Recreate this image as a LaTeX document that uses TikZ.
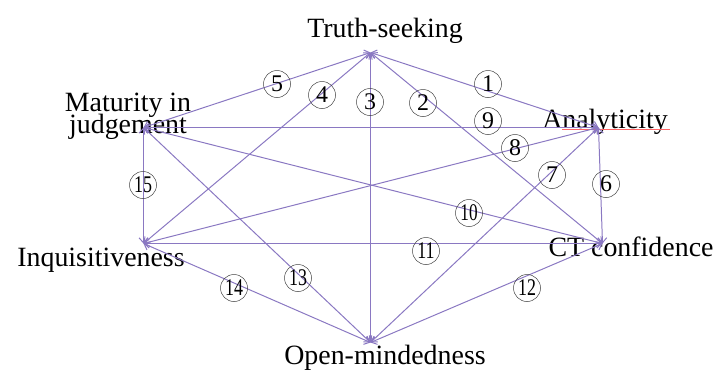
\documentclass[tikz,border=0pt]{standalone}
\usepackage{fontspec}
\setmainfont{Liberation Serif}
\usepackage{tikz}
\usetikzlibrary{arrows.meta}

\definecolor{linkc}{RGB}{138,120,194}
\newcommand\tightlines{\lineskiplimit=-50pt\relax}

\begin{document}
\begin{tikzpicture}[
    x=1bp, y=-1bp,
    font=\fontsize{28}{20}\selectfont,
    trait/.style={inner sep=0pt, anchor=base, align=center, font={\fontsize{28}{22}\selectfont\tightlines}},
    num/.style={circle, draw=black!75, line width=0.5pt, minimum size=27bp, inner sep=0pt, font=\fontsize{24}{24}\selectfont},
    link/.style={{Straight Barb[length=5pt,width=9pt]}-{Straight Barb[length=5pt,width=9pt]}, draw=linkc, line width=1pt}
]
\useasboundingbox (0,0) rectangle (720,372);

% hubs
\coordinate (ts) at (370.5,52.5);
\coordinate (an) at (598.5,127.5);
\coordinate (ct) at (602.5,243.5);
\coordinate (om) at (370.5,342.5);
\coordinate (iq) at (143.5,243.5);
\coordinate (mj) at (143.5,127.5);

% trait names
\node[trait] (tslab) at (385,37) {Truth-seeking};
\node[trait] (anlab) at (605,128) {Analyticity};
\node[trait] (ctlab) at (631,256) {CT confidence};
\node[trait] (omlab) at (385,364) {Open-mindedness};
\node[trait] (iqlab) at (101,266) {Inquisitiveness};
\node[trait] (mjlab) at (128,133) {Maturity in\\judgement};
\draw[red!60, line width=0.6pt] (562,129.5) -- (670,129.5);

% links
\draw[link] (ts) -- (an);
\draw[link] (ts) -- (ct);
\draw[link] (ts) -- (om);
\draw[link] (ts) -- (iq);
\draw[link] (ts) -- (mj);
\draw[link] (an) -- (ct);
\draw[link] (an) -- (om);
\draw[link] (an) -- (iq);
\draw[link] (an) -- (mj);
\draw[link] (ct) -- (mj);
\draw[link] (ct) -- (iq);
\draw[link] (ct) -- (om);
\draw[link] (om) -- (mj);
\draw[link] (om) -- (iq);
\draw[link] (iq) -- (mj);

% numbers
\node[num] (n1) at (488,84) {1};
\node[num] (n2) at (423,103) {2};
\node[num] (n3) at (370,102) {3};
\node[num] (n4) at (322,95) {4};
\node[num] (n5) at (277,84) {5};
\node[num] (n6) at (606,184) {6};
\node[num] (n7) at (552,175) {7};
\node[num] (n8) at (515,148) {8};
\node[num] (n9) at (488,121) {9};
\node[num] (n10) at (469,213) {\scalebox{0.72}[1]{10}};
\node[num] (n11) at (426,251) {\scalebox{0.75}[1]{11}};
\node[num] (n12) at (527,288) {\scalebox{0.75}[1]{12}};
\node[num] (n13) at (298,278) {\scalebox{0.75}[1]{13}};
\node[num] (n14) at (234,288) {\scalebox{0.75}[1]{14}};
\node[num] (n15) at (143,185) {\scalebox{0.75}[1]{15}};
\end{tikzpicture}
\end{document}
